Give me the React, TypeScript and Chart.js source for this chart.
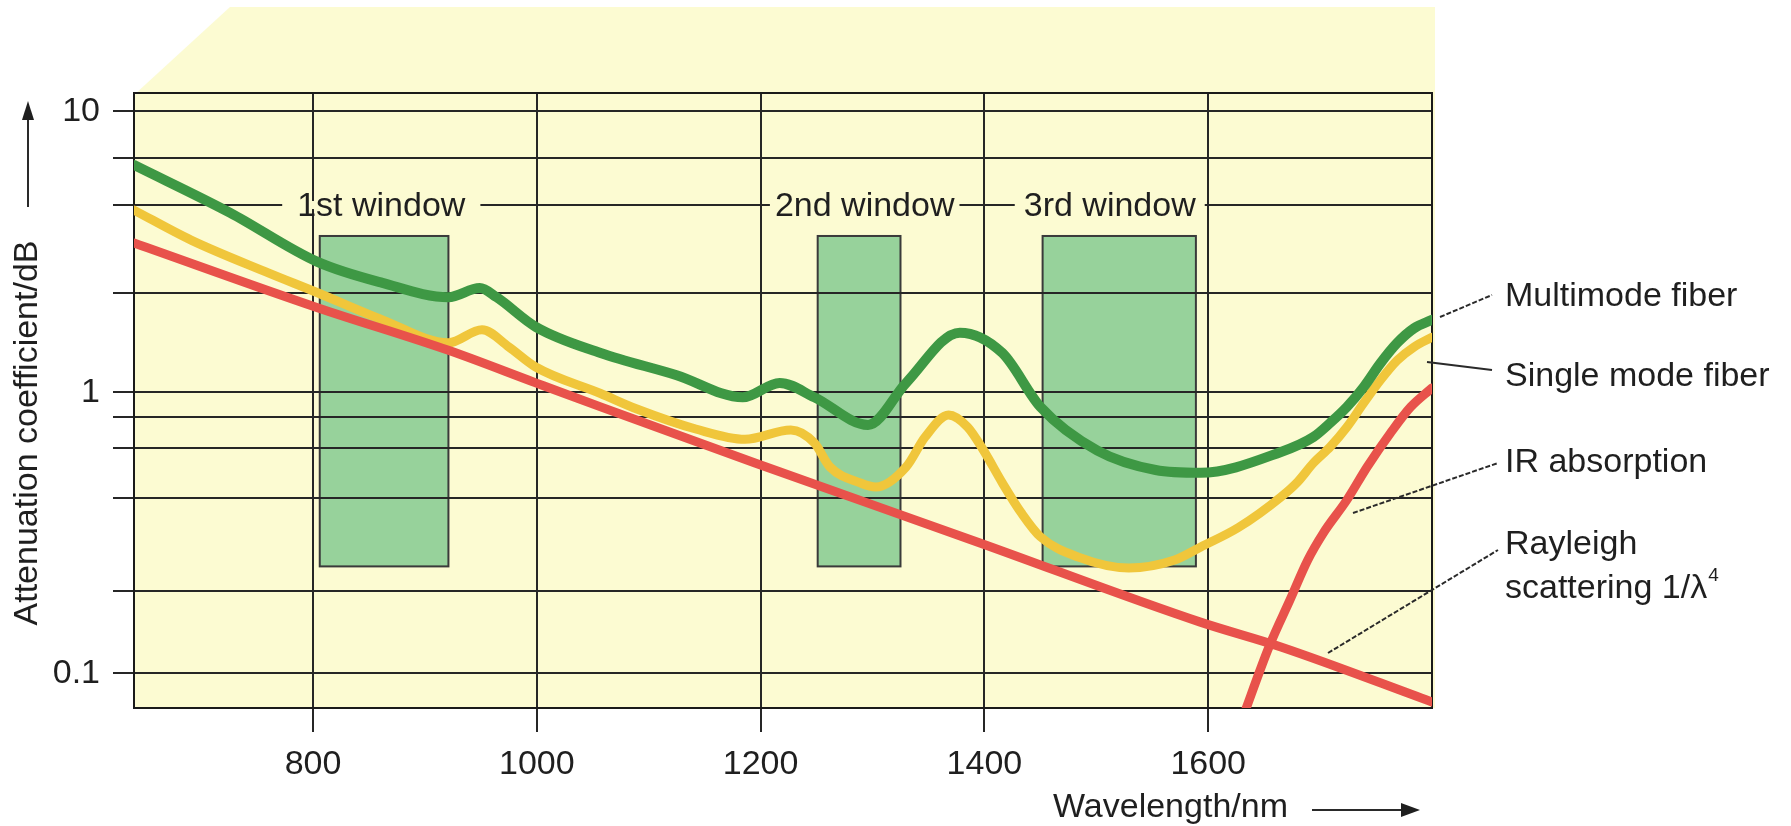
import React, { useEffect, useRef } from 'react';
import { Chart, registerables } from 'chart.js';

Chart.register(...registerables);

// ---- axes ----
const xMin = 640;
const xMax = 1800;
const yMin = 0.0752;
const yMax = 11.62;
const xTicks = [800, 1000, 1200, 1400, 1600];
const yGridValues = [10, 6.82, 4.64, 2.26, 1, 0.817, 0.634, 0.42, 0.196, 0.1];
const yLabelValues = [10, 1, 0.1];

// ---- series (wavelength nm, attenuation dB) ----
const multimodeX = [640, 726, 804, 862, 921, 949, 964, 999, 1057, 1125, 1184, 1217, 1248, 1296, 1330, 1378, 1416, 1450, 1501, 1553, 1593, 1665, 1694, 1709, 1724, 1739, 1754, 1769, 1784, 1800];
const multimodeY = [6.44, 4.35, 2.91, 2.45, 2.18, 2.35, 2.18, 1.71, 1.38, 1.15, 0.96, 1.08, 0.96, 0.765, 1.08, 1.63, 1.38, 0.887, 0.62, 0.529, 0.517, 0.613, 0.693, 0.778, 0.887, 1.044, 1.27, 1.5, 1.69, 1.81];

const singleX = [640, 691, 760, 804, 862, 921, 951, 975, 999, 1057, 1090, 1142, 1186, 1227, 1248, 1262, 1289, 1303, 1330, 1347, 1368, 1385, 1399, 1416, 1433, 1450, 1484, 1529, 1570, 1593, 1627, 1665, 1680, 1694, 1709, 1724, 1739, 1754, 1769, 1784, 1800];
const singleY = [4.45, 3.48, 2.66, 2.26, 1.81, 1.5, 1.67, 1.45, 1.23, 0.99, 0.87, 0.74, 0.68, 0.734, 0.66, 0.542, 0.476, 0.46, 0.542, 0.693, 0.83, 0.752, 0.623, 0.476, 0.372, 0.306, 0.259, 0.237, 0.253, 0.281, 0.33, 0.424, 0.48, 0.56, 0.639, 0.752, 0.916, 1.106, 1.3, 1.45, 1.57];

const rayleighX = [640, 804, 921, 999, 1057, 1195, 1396, 1593, 1665, 1800];
const rayleighY = [3.4, 2.0, 1.41, 1.08, 0.887, 0.56, 0.291, 0.152, 0.124, 0.079];

const irX = [1630, 1655, 1673, 1689, 1703, 1724, 1742, 1763, 1781, 1800];
const irY = [0.068, 0.126, 0.182, 0.253, 0.316, 0.414, 0.542, 0.717, 0.887, 1.036];

// ---- transmission windows ----
const windowLabels = ['1st window', '2nd window', '3rd window'];
const windowStart = [806, 1251, 1452];
const windowEnd = [921, 1325, 1589];
const windowLow = [0.24, 0.24, 0.24];
const windowHigh = [3.6, 3.6, 3.6];
const windowLabelX = [861, 1293, 1512];
const windowLabelY = 4.64;

// ---- right-hand annotations ----
const annotationTexts = ['Multimode fiber', 'Single mode fiber', 'IR absorption', 'Rayleigh'];

// ---- styles ----
const FONT = '"Liberation Sans", Arial, Helvetica, sans-serif';
const TEXT = '#1f1f1f';
const GRID = '#262626';
const BG_YELLOW = '#fcfbd2';
const WINDOW_FILL = '#97d29b';
const WINDOW_EDGE = '#3a3a3a';
const GREEN = '#3e9844';
const YELLOW = '#f0c63b';
const RED = '#e8524b';
const LABEL_PAD = [15, 5, 9];
// annotation layout: [textY, lineStartX(rel right), lineStartY, lineEndX(rel right), lineEndY, dashed]
const ANNOT_LAYOUT: [number, number, number, number, number, boolean][] = [
  [297, 8, 317, 60, 295, true],
  [377, -5, 362, 60, 370, false],
  [463, -79, 513, 66, 463, true],
  [545, -104, 653, 66, 550, true],
];

const toPoints = (xs: number[], ys: number[]) => xs.map((x, i) => ({ x, y: ys[i] }));

const backgroundPlugin = {
  id: 'bgWindows',
  beforeDraw(chart: any) {
    const { ctx, chartArea: a, scales } = chart;
    const xs = scales.x;
    const ys = scales.y;
    ctx.save();
    ctx.fillStyle = '#ffffff';
    ctx.fillRect(0, 0, chart.width, chart.height);
    ctx.fillStyle = BG_YELLOW;
    ctx.beginPath();
    ctx.moveTo(a.left, a.bottom);
    ctx.lineTo(a.left, a.top + 2);
    ctx.lineTo(a.left + 96, 7);
    ctx.lineTo(a.right + 3, 7);
    ctx.lineTo(a.right + 3, a.bottom);
    ctx.closePath();
    ctx.fill();
    for (let i = 0; i < windowStart.length; i++) {
      const x0 = xs.getPixelForValue(windowStart[i]);
      const x1 = xs.getPixelForValue(windowEnd[i]);
      const y0 = ys.getPixelForValue(windowHigh[i]);
      const y1 = ys.getPixelForValue(windowLow[i]);
      ctx.fillStyle = WINDOW_FILL;
      ctx.fillRect(x0, y0, x1 - x0, y1 - y0);
      ctx.strokeStyle = WINDOW_EDGE;
      ctx.lineWidth = 2;
      ctx.strokeRect(x0, y0, x1 - x0, y1 - y0);
    }
    ctx.restore();
  },
  beforeDatasetsDraw(chart: any) {
    const { ctx, chartArea: a, scales } = chart;
    const xs = scales.x;
    const ys = scales.y;
    ctx.save();
    ctx.strokeStyle = '#1a1a1a';
    ctx.lineWidth = 2;
    ctx.strokeRect(a.left, a.top, a.right - a.left, a.bottom - a.top);
    ctx.font = `34px ${FONT}`;
    ctx.textAlign = 'center';
    ctx.textBaseline = 'middle';
    const py = ys.getPixelForValue(windowLabelY);
    for (let i = 0; i < windowLabels.length; i++) {
      const px = xs.getPixelForValue(windowLabelX[i]);
      const w = ctx.measureText(windowLabels[i]).width;
      ctx.fillStyle = BG_YELLOW;
      ctx.fillRect(px - w / 2 - LABEL_PAD[i], py - 4, w + 2 * LABEL_PAD[i], 8);
      ctx.fillStyle = TEXT;
      ctx.fillText(windowLabels[i], px, py + 2);
    }
    ctx.restore();
  },
  afterDraw(chart: any) {
    const { ctx, chartArea: a } = chart;
    ctx.save();
    ctx.fillStyle = TEXT;
    ctx.strokeStyle = '#2a2a2a';
    ctx.font = `34px ${FONT}`;
    // y title
    ctx.save();
    ctx.translate(28, 433);
    ctx.rotate(-Math.PI / 2);
    ctx.textAlign = 'center';
    ctx.textBaseline = 'middle';
    ctx.fillText('Attenuation coefficient/dB', 0, 0);
    ctx.restore();
    ctx.lineWidth = 2;
    ctx.beginPath();
    ctx.moveTo(28, 207);
    ctx.lineTo(28, 116);
    ctx.stroke();
    ctx.beginPath();
    ctx.moveTo(28, 101);
    ctx.lineTo(22, 120);
    ctx.lineTo(34, 120);
    ctx.closePath();
    ctx.fill();
    // x title
    ctx.textAlign = 'left';
    ctx.textBaseline = 'middle';
    ctx.fillText('Wavelength/nm', 1053, 808);
    ctx.beginPath();
    ctx.moveTo(1312, 810);
    ctx.lineTo(1404, 810);
    ctx.stroke();
    ctx.beginPath();
    ctx.moveTo(1420, 810);
    ctx.lineTo(1401, 803);
    ctx.lineTo(1401, 817);
    ctx.closePath();
    ctx.fill();
    // annotations
    const tx = a.right + 73;
    for (let i = 0; i < annotationTexts.length; i++) {
      const [ty, sx, sy, ex, ey, dashed] = ANNOT_LAYOUT[i];
      ctx.lineWidth = 2;
      ctx.setLineDash(dashed ? [5, 2] : []);
      ctx.beginPath();
      ctx.moveTo(a.right + sx, sy);
      ctx.lineTo(a.right + ex, ey);
      ctx.stroke();
      ctx.setLineDash([]);
      ctx.fillText(annotationTexts[i], tx, ty);
    }
    const s = 'scattering 1/λ';
    ctx.fillText(s, tx, 589);
    const w = ctx.measureText(s).width;
    ctx.font = `19px ${FONT}`;
    ctx.fillText('4', tx + w + 1, 576);
    ctx.restore();
  },
};

export default function App() {
  const ref = useRef<HTMLCanvasElement | null>(null);
  useEffect(() => {
    if (!ref.current) return;
    const lineDs = (label: string, xs: number[], ys: number[], color: string, width: number) => ({
      label,
      data: toPoints(xs, ys),
      borderColor: color,
      backgroundColor: color,
      borderWidth: width,
      pointRadius: 0,
      fill: false,
      cubicInterpolationMode: 'monotone' as const,
      borderCapStyle: 'round' as const,
      borderJoinStyle: 'round' as const,
      clip: 0,
    });
    const chart = new Chart(ref.current, {
      type: 'line',
      data: {
        datasets: [
          lineDs('Rayleigh scattering', rayleighX, rayleighY, RED, 9),
          lineDs('IR absorption', irX, irY, RED, 9),
          lineDs('Multimode fiber', multimodeX, multimodeY, GREEN, 10),
          lineDs('Single mode fiber', singleX, singleY, YELLOW, 9),
        ],
      },
      options: {
        animation: false,
        responsive: false,
        devicePixelRatio: 1,
        events: [],
        layout: { padding: { left: 0, top: 93, right: 359, bottom: 0 } },
        plugins: {
          legend: { display: false },
          tooltip: { enabled: false },
          title: { display: false },
        },
        scales: {
          x: {
            type: 'linear',
            min: xMin,
            max: xMax,
            bounds: 'data',
            afterBuildTicks: (s: any) => {
              s.ticks = xTicks.map((v) => ({ value: v }));
            },
            afterFit: (s: any) => {
              s.height = 118;
            },
            grid: { color: GRID, lineWidth: 2, tickLength: 24, drawTicks: true },
            border: { display: false },
            ticks: {
              callback: (v: any) => String(v),
              font: { size: 34, family: FONT, lineHeight: 1 },
              color: TEXT,
              padding: 16,
              maxRotation: 0,
              autoSkip: false,
            },
          },
          y: {
            type: 'logarithmic',
            min: yMin,
            max: yMax,
            bounds: 'data',
            afterBuildTicks: (s: any) => {
              s.ticks = yGridValues.map((v) => ({ value: v }));
            },
            afterFit: (s: any) => {
              s.width = 134;
            },
            grid: { color: GRID, lineWidth: 2, tickLength: 21, drawTicks: true },
            border: { display: false },
            ticks: {
              callback: (v: any) => (yLabelValues.includes(Number(v)) ? String(v) : ''),
              font: { size: 34, family: FONT, lineHeight: 1 },
              color: TEXT,
              padding: 13,
              autoSkip: false,
            },
          },
        },
      } as any,
      plugins: [backgroundPlugin],
    });
    return () => chart.destroy();
  }, []);
  return (
    <div style={{ position: 'absolute', left: 0, top: 0, width: 1791, height: 826, background: '#fff' }}>
      <canvas ref={ref} width={1791} height={826} style={{ display: 'block', width: 1791, height: 826 }} />
    </div>
  );
}
